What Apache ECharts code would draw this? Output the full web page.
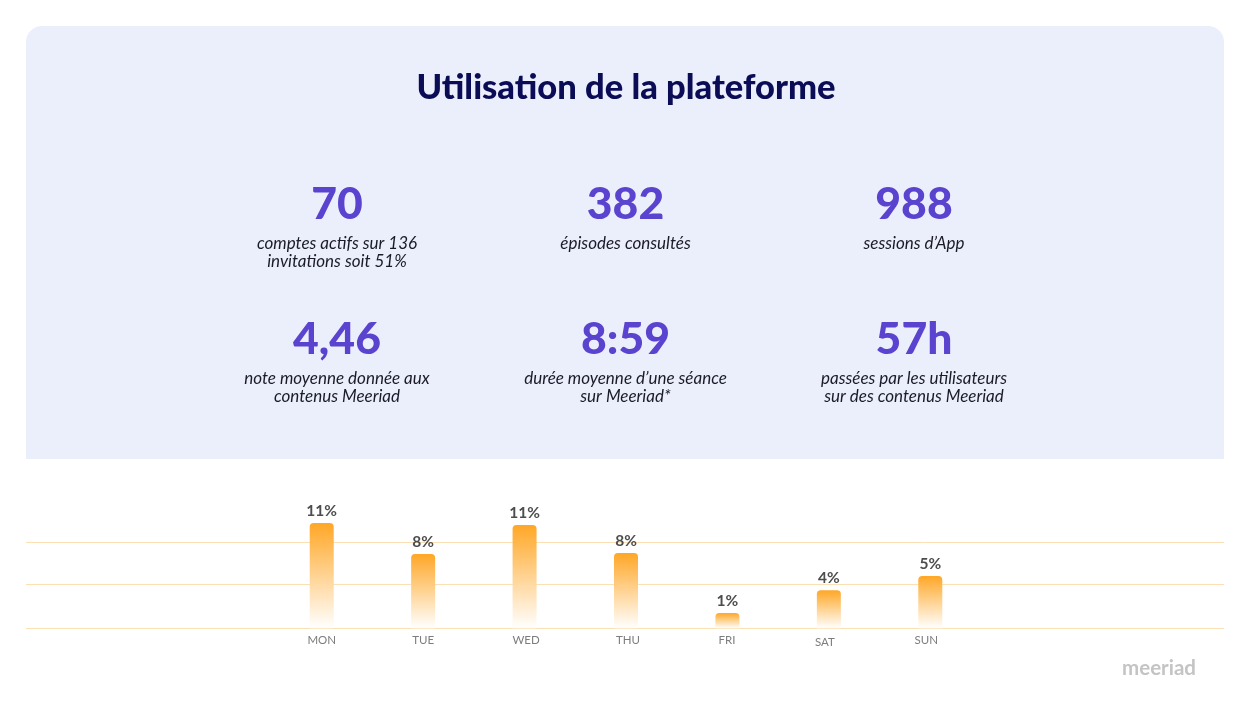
<!DOCTYPE html>
<html>
<head>
<meta charset="utf-8">
<title>Utilisation de la plateforme</title>
<script src="https://cdn.jsdelivr.net/npm/echarts@6/dist/echarts.min.js"></script>
<style>
html,body{margin:0;padding:0;background:#fff}
#main{width:1252px;height:728px}
</style>
</head>
<body>
<div id="main"></div>
<script>
// jours et valeurs
var days = ["MON","TUE","WED","THU","FRI","SAT","SUN"];
var usage = [11.05,7.8,10.85,7.9,1.6,4.0,5.5];
var usageLabels = ["11%","8%","11%","8%","1%","4%","5%"];
var gridValues = [0,4.6,9.05];

// les chiffres clés
var statValues = ["70","382","988","4,46","8:59","57h"];
var statTexts = [
    "comptes actifs sur 136\ninvitations soit 51%",
    "épisodes consultés",
    "sessions d’App",
    "note moyenne donnée aux\ncontenus Meeriad",
    "durée moyenne d’une séance\nsur Meeriad*",
    "passées par les utilisateurs\nsur des contenus Meeriad"
];
var statCols = [337,625.5,914];
var statRows = [203,338];

var titles = [{
    text:"Utilisation de la plateforme",
    left:626, top:70.5, padding:0, textAlign:"center",
    textStyle:{fontFamily:"Lato",fontWeight:900,fontSize:34.5,color:"#0b0c56"}
}];
for (var i = 0;i < statValues.length;i++){
    var cx = statCols[i % 3], cy = statRows[Math.floor(i / 3)];
    titles.push({
        text:statValues[i], left:cx, top:cy - 21, padding:0, textAlign:"center",
        textStyle:{fontFamily:"Lato",fontWeight:900,fontSize:44.5,color:"#5a43cf"}
    });
    titles.push({
        text:statTexts[i], left:cx, top:cy + 31, padding:0, textAlign:"center",
        textStyle:{fontFamily:"Lato",fontStyle:"italic",fontWeight:400,fontSize:17,lineHeight:18.5,color:"#1a1a2a"}
    });
}
titles.push({
    text:"meeriad", left:1196, top:658, padding:0, textAlign:"right",
    textStyle:{fontFamily:"Lato",fontWeight:700,fontSize:20.5,color:"#c4c4c4"}
});

// décalage des libellés de jours, comme sur l'image
var dayPadding = [[0,0,0,0],[0,0,0,0],[0,0,0,3],[0,0,0,4],[0,1,0,0],[2,8,0,0],[0,8,0,0]];
var dayItems = days.map(function (d,i){
    return {value:d,textStyle:{padding:dayPadding[i]}};
});

var myChart = echarts.init(document.getElementById("main"),null,{renderer:"canvas"});
var yMax = 12;
var option = {
    animation:false,
    backgroundColor:"#fff",
    title:titles,
    graphic:[{
        type:"rect", z:-10,
        shape:{x:26,y:26,width:1198,height:433,r:[16,16,0,0]},
        style:{fill:"#ebeffb"}
    }],
    grid:[
        {left:26,right:28,top:514,height:114.3},
        {left:271,width:710,top:514,height:114.3}
    ],
    xAxis:[
        {type:"category",gridIndex:0,data:days,show:false},
        {type:"category",gridIndex:1,data:dayItems,
            axisLine:{show:false},axisTick:{show:false},
            axisLabel:{margin:6,fontFamily:"Lato",fontSize:11.5,color:"#7d7d7d"}}
    ],
    yAxis:[
        {type:"value",gridIndex:0,min:0,max:yMax,
            axisLine:{show:false},axisLabel:{show:false},
            axisTick:{show:false,customValues:gridValues},
            splitLine:{show:true,lineStyle:{color:"#fbe0b5",width:1}}},
        {type:"value",gridIndex:1,min:0,max:yMax,show:false,splitLine:{show:false}}
    ],
    series:[{
        type:"bar",
        xAxisIndex:1,yAxisIndex:1,
        data:usage,
        barWidth:24,
        z:3,
        itemStyle:{
            borderRadius:[4,4,0,0],
            color:new echarts.graphic.LinearGradient(0,0,0,1,[
                {offset:0,color:"#ffa726"},
                {offset:1,color:"#ffffff"}
            ])
        },
        label:{
            show:true,position:"top",distance:4,
            formatter:function (p){ return usageLabels[p.dataIndex]; },
            fontFamily:"Lato",fontWeight:700,fontSize:15.5,color:"#4d4d4d"
        }
    }]
};
myChart.setOption(option);
</script>
</body>
</html>
